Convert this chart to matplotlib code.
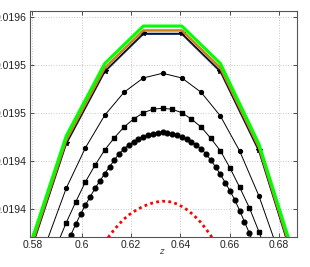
import numpy as np
import matplotlib
matplotlib.use("Agg")
import matplotlib.pyplot as plt

# abscisses des grilles (pas 1/64, 1/128, 1/256, 1/512)
z_64 = [0.578125, 0.59375, 0.609375, 0.625, 0.640625, 0.65625, 0.671875, 0.6875]
y_vert = [0.0193549, 0.0194764, 0.0195519, 0.0195909, 0.0195909, 0.0195519, 0.0194680, 0.0193402]
y_brun = [0.0193503, 0.0194719, 0.0195472, 0.0195863, 0.0195863, 0.0195472, 0.0194644, 0.0193357]
y_etoile = [0.0193472, 0.0194688, 0.0195441, 0.0195833, 0.0195833, 0.0195441, 0.0194613, 0.0193326]
y_bleu = [0.0193461, 0.0194677, 0.0195430, 0.0195823, 0.0195823, 0.0195430, 0.0194602, 0.0193316]

z_128 = [0.5859375, 0.59375, 0.6015625, 0.609375, 0.6171875, 0.625, 0.6328125,
         0.640625, 0.6484375, 0.65625, 0.6640625, 0.671875, 0.6796875]
y_128 = [0.0193670, 0.0194219, 0.0194642, 0.0194980, 0.0195219, 0.0195368, 0.0195417,
         0.0195368, 0.0195219, 0.0194972, 0.0194607, 0.0194139, 0.0193566]

z_256 = [0.58984375, 0.59375, 0.59765625, 0.6015625, 0.60546875, 0.609375, 0.61328125,
         0.6171875, 0.62109375, 0.625, 0.62890625, 0.6328125, 0.63671875, 0.640625,
         0.64453125, 0.6484375, 0.65234375, 0.65625, 0.66015625, 0.6640625, 0.66796875,
         0.671875, 0.67578125]
y_256 = [0.0193618, 0.0193860, 0.0194079, 0.0194287, 0.0194461, 0.0194618, 0.0194746,
         0.0194857, 0.0194941, 0.0195005, 0.0195043, 0.0195052, 0.0195042, 0.0195006,
         0.0194939, 0.0194857, 0.0194740, 0.0194609, 0.0194430, 0.0194229, 0.0194017,
         0.0193767, 0.0193493]

z_512 = [0.59375, 0.5957031, 0.5976563, 0.5996094, 0.6015625, 0.6035156, 0.6054688,
         0.6074219, 0.609375, 0.6113281, 0.6132813, 0.6152344, 0.6171875, 0.6191406,
         0.6210938, 0.6230469, 0.625, 0.6269531, 0.6289063, 0.6308594, 0.6328125,
         0.6347656, 0.6367188, 0.6386719, 0.640625, 0.6425781, 0.6445313, 0.6464844,
         0.6484375, 0.6503906, 0.6523438, 0.6542969, 0.65625, 0.6582031, 0.6601563,
         0.6621094, 0.6640625, 0.6660156, 0.6679688, 0.6699219]
y_512 = [0.0193618, 0.0193737, 0.0193847, 0.0193951, 0.0194045, 0.0194133, 0.0194219,
         0.0194297, 0.0194371, 0.0194443, 0.0194514, 0.0194581, 0.0194630, 0.0194670,
         0.0194704, 0.0194732, 0.0194756, 0.0194774, 0.0194787, 0.0194798, 0.0194802,
         0.0194798, 0.0194787, 0.0194774, 0.0194756, 0.0194732, 0.0194704, 0.0194670,
         0.0194628, 0.0194578, 0.0194514, 0.0194441, 0.0194363, 0.0194279, 0.0194191,
         0.0194097, 0.0193987, 0.0193870, 0.0193753, 0.0193628]

z_rouge = [0.609375, 0.6113281, 0.6132813, 0.6152344, 0.6171875, 0.6191406, 0.6210938,
           0.6230469, 0.625, 0.6269531, 0.6289063, 0.6308594, 0.6328125, 0.6347656,
           0.6367188, 0.6386719, 0.640625, 0.6425781, 0.6445313, 0.6464844, 0.6484375,
           0.6503906, 0.6523438, 0.6542969]
y_rouge = [0.0193654, 0.0193727, 0.0193790, 0.0193847, 0.0193899, 0.0193941, 0.0193975,
           0.0194005, 0.0194031, 0.0194051, 0.0194067, 0.0194078, 0.0194084, 0.0194083,
           0.0194073, 0.0194055, 0.0194029, 0.0193998, 0.0193958, 0.0193912, 0.0193860,
           0.0193795, 0.0193727, 0.0193649]

xticks = [0.58, 0.60, 0.62, 0.64, 0.66, 0.68]
xtick_labels = ["0.58", "0.6", "0.62", "0.64", "0.66", "0.68"]
yticks = [0.01940, 0.01945, 0.01950, 0.01955, 0.01960]
ytick_labels = ["0.0194", "0.0194", "0.0195", "0.0195", "0.0196"]

plt.rcParams['font.family'] = ['Liberation Sans', 'DejaVu Sans']
fig = plt.figure(figsize=(3.10, 2.67), dpi=100)
ax = fig.add_axes([0.0977, 0.1135, 0.8593, 0.8465])

ax.plot(z_rouge, y_rouge, color='red', lw=2.0, dashes=(1.0, 1.2))
ax.plot(z_512, y_512, '-o', color='black', lw=0.7, ms=3.4)
ax.plot(z_256, y_256, '-s', color='black', lw=0.7, ms=2.3)
ax.plot(z_128, y_128, '-o', color='black', lw=0.7, ms=2.8)
ax.plot(z_64, y_bleu, color='#1c2f6e', lw=1.0)
ax.plot(z_64, y_etoile, '-*', color='black', lw=0.8, ms=4.2)
ax.plot(z_64, y_brun, color='#c8821e', lw=1.8)
ax.plot(z_64, y_vert, color='#00ff00', lw=2.2)

ax.set_xlim(0.57919, 0.68717)
ax.set_ylim(0.01937146, 0.01960688)
ax.set_xticks(xticks)
ax.set_xticklabels(xtick_labels)
ax.set_yticks(yticks)
ax.set_yticklabels(ytick_labels)
ax.tick_params(direction='in', length=3, width=0.6, labelsize=7.5, pad=2.5,
               top=True, right=True, colors='#333333', labelcolor='#222222')
ax.grid(True, linestyle=':', color='#c8c8c8', lw=0.7)
for s in ax.spines.values():
    s.set_color('#555555')
    s.set_linewidth(0.8)

ax.set_xlabel('$z$', fontsize=6, color='#444444')
ax.xaxis.set_label_coords(0.4955, -0.045)

fig.savefig('out.png', dpi=100)
